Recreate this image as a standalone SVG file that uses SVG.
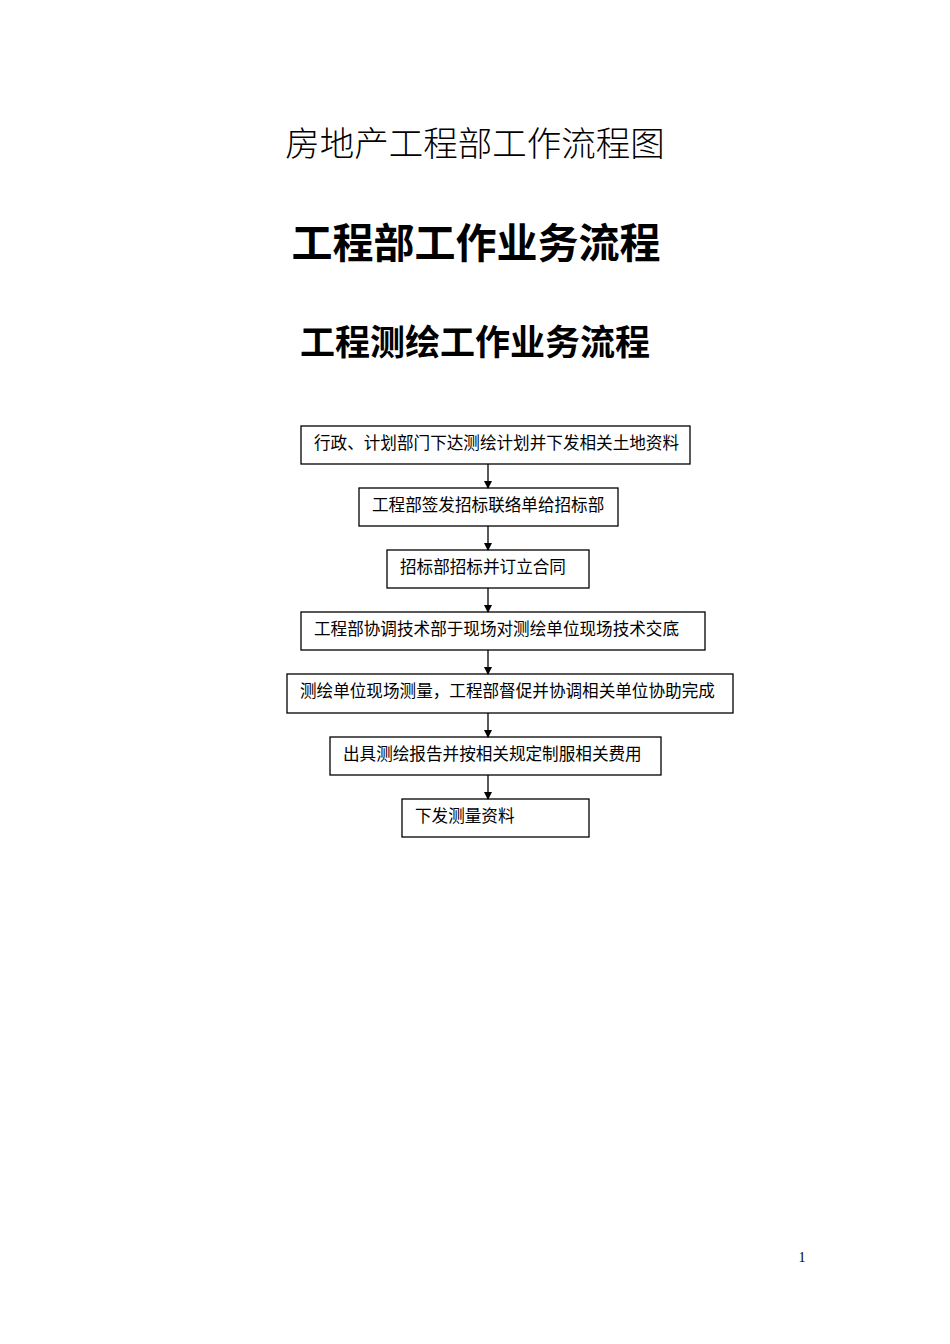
<svg xmlns="http://www.w3.org/2000/svg" width="950" height="1344" viewBox="0 0 950 1344">
<style>
text{font-family:"Liberation Serif","Noto Sans CJK SC",serif;fill:#000}
.b{fill:#fff;stroke:#000;stroke-width:1.3}
.t{font-size:16.6px}
.c{stroke:#000;stroke-width:1.3}
</style>
<defs><marker id="a" markerWidth="8" markerHeight="8" refX="7" refY="4" orient="auto" markerUnits="userSpaceOnUse"><path d="M0,0L8,4L0,8z"/></marker></defs>
<rect width="950" height="1344" fill="#fff"/>
<text x="475" y="156" text-anchor="middle" font-size="34.5" font-weight="300">房地产工程部工作流程图</text>
<text x="476" y="258" text-anchor="middle" font-size="41" font-weight="bold">工程部工作业务流程</text>
<text x="475" y="355" text-anchor="middle" font-size="35" font-weight="bold">工程测绘工作业务流程</text>
<g id="n1"><rect class="b" x="301" y="426" width="389" height="38"/><text class="t" x="314" y="449">行政、计划部门下达测绘计划并下发相关土地资料</text></g>
<g id="n2"><rect class="b" x="359" y="488" width="259" height="38"/><text class="t" x="372" y="511">工程部签发招标联络单给招标部</text></g>
<g id="n3"><rect class="b" x="387" y="550" width="202" height="38"/><text class="t" x="400" y="573">招标部招标并订立合同</text></g>
<g id="n4"><rect class="b" x="301" y="612" width="404" height="38"/><text class="t" x="314" y="635">工程部协调技术部于现场对测绘单位现场技术交底</text></g>
<g id="n5"><rect class="b" x="287" y="674" width="446" height="39"/><text class="t" x="300" y="697">测绘单位现场测量，工程部督促并协调相关单位协助完成</text></g>
<g id="n6"><rect class="b" x="330" y="737" width="331" height="38"/><text class="t" x="343" y="760">出具测绘报告并按相关规定制服相关费用</text></g>
<g id="n7"><rect class="b" x="402" y="799" width="187" height="38"/><text class="t" x="415" y="822">下发测量资料</text></g>
<g id="connectors">
<line class="c" x1="488" y1="464" x2="488" y2="488" marker-end="url(#a)"/>
<line class="c" x1="488" y1="526" x2="488" y2="550" marker-end="url(#a)"/>
<line class="c" x1="488" y1="588" x2="488" y2="612" marker-end="url(#a)"/>
<line class="c" x1="488" y1="650" x2="488" y2="674" marker-end="url(#a)"/>
<line class="c" x1="488" y1="713" x2="488" y2="737" marker-end="url(#a)"/>
<line class="c" x1="488" y1="775" x2="488" y2="799" marker-end="url(#a)"/>
</g>
<text x="802" y="1262" font-size="14" text-anchor="middle">1</text>
</svg>
